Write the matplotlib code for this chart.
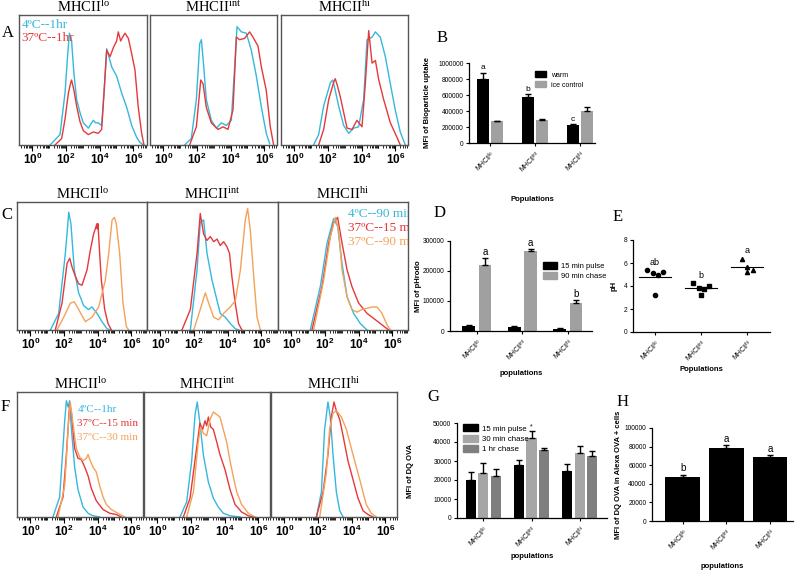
import numpy as np
import matplotlib
matplotlib.use('Agg')
import matplotlib.pyplot as plt
from matplotlib.ticker import FixedLocator, FormatStrFormatter
from matplotlib.patches import Patch

plt.rcParams['font.family'] = ['Liberation Sans', 'DejaVu Sans']
plt.rcParams['mathtext.fontset'] = 'custom'
plt.rcParams['mathtext.rm'] = 'Liberation Serif'
plt.rcParams['mathtext.bf'] = 'Liberation Sans:bold'
plt.rcParams['mathtext.sf'] = 'Liberation Sans'

# ---- histogram traces (x in log10 decades, y in % of panel height) ----
A_lo_4C = ([1.05, 1.64, 1.94, 2.1, 2.2, 2.33, 2.47, 2.63, 2.83, 3.03, 3.33, 3.62, 3.76, 3.92, 4.12, 4.26, 4.42, 4.72, 5.01, 5.31, 5.61, 5.91, 6.2, 6.4, 6.6],
           [0, 8, 40, 70, 86, 80, 55, 35, 25, 17, 13, 19, 17, 17, 15, 40, 74, 60, 53, 40, 29, 15, 6, 2, 0])
A_lo_37C = ([1.34, 1.74, 1.94, 2.14, 2.28, 2.33, 2.47, 2.63, 2.83, 3.03, 3.33, 3.62, 3.92, 4.12, 4.26, 4.42, 4.62, 4.82, 5.01, 5.11, 5.25, 5.37, 5.51, 5.71, 5.91, 6.1, 6.3, 6.5, 6.64],
            [0, 5, 20, 40, 48, 50, 42, 30, 18, 11, 8, 10, 9, 12, 40, 73, 68, 75, 80, 87, 80, 83, 86, 82, 70, 58, 29, 9, 0])
A_int_4C = ([1.26, 1.66, 1.96, 2.16, 2.26, 2.4, 2.55, 2.85, 3.15, 3.45, 3.74, 4.04, 4.24, 4.38, 4.64, 4.93, 5.23, 5.53, 5.83, 6.12, 6.32],
            [0, 5, 35, 78, 81, 60, 35, 19, 13, 17, 15, 19, 60, 91, 87, 86, 73, 53, 29, 9, 1])
A_int_37C = ([1.56, 1.96, 2.22, 2.36, 2.55, 2.85, 3.25, 3.55, 3.84, 4.14, 4.34, 4.53, 4.83, 5.13, 5.33, 5.63, 5.83, 6.12, 6.36, 6.56],
             [0, 14, 50, 47, 29, 17, 12, 14, 12, 27, 83, 81, 82, 87, 83, 76, 60, 42, 14, 0])
A_hi_4C = ([1.14, 1.44, 1.74, 2.14, 2.28, 2.43, 2.63, 2.93, 3.23, 3.53, 3.82, 4.12, 4.32, 4.62, 4.82, 5.11, 5.41, 5.71, 6.0, 6.3, 6.6],
           [0, 8, 30, 48, 50, 42, 30, 15, 9, 13, 14, 35, 81, 83, 87, 83, 68, 47, 27, 10, 0])
A_hi_37C = ([1.44, 1.74, 2.04, 2.33, 2.43, 2.57, 2.73, 3.13, 3.43, 3.72, 4.02, 4.22, 4.42, 4.62, 4.82, 5.02, 5.31, 5.71, 6.1, 6.3],
            [0, 12, 35, 48, 51, 45, 37, 13, 12, 19, 14, 47, 88, 63, 65, 50, 35, 17, 6, 0])

C_lo_4C = ([1.19, 1.68, 2.08, 2.28, 2.41, 2.61, 2.87, 3.17, 3.46, 3.66, 3.96, 4.26, 4.56, 4.76],
           [0, 13, 60, 92, 83, 47, 29, 19, 16, 18, 13, 6.5, 1, 0])
C_lo_37C15 = ([1.48, 1.88, 2.18, 2.34, 2.48, 2.67, 2.87, 3.07, 3.37, 3.56, 3.76, 3.96, 3.98, 4.02, 4.12, 4.22, 4.42, 4.62, 4.82],
              [0, 21, 52, 56, 49, 42, 36, 35, 47, 62, 75, 83, 79, 83, 60, 39, 16, 5, 0])
C_lo_37C90 = ([1.58, 1.98, 2.38, 2.61, 2.87, 3.27, 3.66, 4.06, 4.46, 4.66, 4.86, 5.0, 5.11, 5.31, 5.51, 5.71, 5.85],
              [0, 10, 21, 22, 16, 6.5, 10, 18, 39, 60, 86, 88, 83, 60, 21, 2.6, 0])
C_int_4C = ([1.78, 2.18, 2.37, 2.57, 2.77, 3.07, 3.37, 3.56, 3.86, 4.16, 4.46, 4.66],
            [0, 47, 84, 86, 60, 39, 23, 13, 10, 5, 1, 0])
C_int_37C15 = ([1.28, 1.78, 2.18, 2.37, 2.57, 2.77, 2.97, 3.17, 3.37, 3.56, 3.76, 3.96, 4.11, 4.25, 4.45, 4.65, 4.85],
               [0, 16, 60, 91, 75, 70, 73, 69, 71, 66, 69, 65, 60, 42, 21, 5, 0])
C_int_37C90 = ([1.98, 2.37, 2.67, 2.87, 3.17, 3.46, 3.76, 4.16, 4.46, 4.76, 5.05, 5.19, 5.35, 5.55, 5.75, 5.95],
               [0, 16, 29, 21, 10, 8, 13, 18, 23, 47, 86, 95, 78, 42, 10, 0])
C_hi_4C = ([1.12, 1.72, 2.12, 2.51, 2.75, 3.01, 3.31, 3.7, 4.1, 4.5],
           [0, 34, 68, 87, 81, 52, 26, 13, 5, 0])
C_hi_37C15 = ([1.22, 1.82, 2.22, 2.51, 2.75, 3.01, 3.31, 3.6, 4.0, 4.5, 5.0, 5.49, 5.79],
              [0, 34, 68, 84, 88, 68, 47, 34, 21, 13, 8, 3, 0])
C_hi_37C90 = ([1.32, 1.92, 2.32, 2.61, 2.81, 3.01, 3.31, 3.6, 3.9, 4.2, 4.5, 4.8, 5.09, 5.39, 5.69, 5.89],
              [0, 39, 73, 88, 78, 47, 26, 16, 14, 16, 17, 18, 18, 13, 4, 0])

F_lo_4C = ([1.34, 1.74, 2.04, 2.14, 2.24, 2.33, 2.43, 2.63, 2.83, 3.13, 3.43, 3.72, 4.12],
           [0, 16, 77, 93, 88, 93, 72, 40, 22, 8, 3, 1, 0])
F_lo_37C15 = ([1.54, 1.94, 2.14, 2.33, 2.43, 2.63, 2.83, 3.03, 3.23, 3.43, 3.62, 3.92, 4.32, 4.72, 5.11, 5.41],
              [0, 16, 50, 90, 85, 55, 47, 46, 40, 33, 23, 13, 6, 3, 2, 0])
F_lo_37C30 = ([1.64, 2.04, 2.24, 2.37, 2.53, 2.73, 2.93, 3.13, 3.33, 3.43, 3.53, 3.72, 3.92, 4.12, 4.32, 4.52, 4.81, 5.21, 5.61],
              [0, 25, 70, 92, 75, 55, 48, 45, 47, 50, 46, 40, 36, 25, 16, 10, 6, 3, 0])
F_int_4C = ([1.34, 1.74, 2.04, 2.24, 2.37, 2.53, 2.73, 3.03, 3.33, 3.62, 3.92, 4.32, 4.91],
            [0, 12, 45, 82, 92, 75, 50, 28, 15, 8, 3, 1, 0])
F_int_37C15 = ([1.54, 1.94, 2.33, 2.53, 2.69, 2.83, 2.93, 3.03, 3.17, 3.33, 3.53, 3.72, 4.02, 4.32, 4.62, 5.01, 5.41, 5.71],
               [0, 15, 55, 75, 70, 77, 73, 80, 72, 70, 60, 50, 38, 22, 10, 4, 1, 0])
F_int_37C30 = ([1.74, 2.14, 2.43, 2.57, 2.73, 2.93, 3.13, 3.33, 3.53, 3.72, 3.92, 4.12, 4.32, 4.52, 4.72, 5.01, 5.41, 5.81],
               [0, 20, 60, 72, 67, 65, 78, 84, 82, 80, 70, 60, 45, 32, 20, 10, 3, 0])
F_hi_4C = ([1.9, 2.2, 2.39, 2.59, 2.73, 2.89, 3.09, 3.29, 3.49],
           [0, 20, 70, 92, 80, 50, 20, 5, 0])
F_hi_37C15 = ([1.9, 2.3, 2.59, 2.79, 2.95, 3.09, 3.29, 3.49, 3.78, 4.08, 4.38, 4.68, 4.97, 5.27],
              [0, 20, 50, 80, 92, 85, 78, 65, 45, 30, 15, 5, 2, 0])
F_hi_37C30 = ([2.1, 2.49, 2.69, 2.89, 3.09, 3.39, 3.69, 3.98, 4.28, 4.58, 4.87, 5.17, 5.47],
              [0, 35, 70, 83, 85, 80, 70, 55, 40, 25, 10, 3, 0])

# ---- bar / dot panels ----
pop_labels = [r'$\mathsf{MHCII^{lo}}$', r'$\mathsf{MHCII^{int}}$', r'$\mathsf{MHCII^{hi}}$']

uptake_warm = [800000, 580000, 230000]
uptake_warm_err = [80000, 35000, 8000]
uptake_ice = [270000, 290000, 400000]
uptake_ice_err = [10000, 15000, 55000]
uptake_letters = ['a', 'b', 'c']

phrodo_pulse = [17000, 15000, 8000]
phrodo_pulse_err = [2000, 1500, 1500]
phrodo_chase = [220000, 265000, 95000]
phrodo_chase_err = [22000, 8000, 8000]
phrodo_letters = ['a', 'a', 'b']

ph_lo = [5.36, 5.13, 4.92, 5.22, 3.22]
ph_int = [4.25, 3.84, 3.78, 3.99, 3.22]
ph_hi = [6.39, 5.66, 5.22, 5.42]
ph_letters = ['ab', 'b', 'a']

dq_pulse = [20000, 28000, 25000]
dq_pulse_err = [4000, 2500, 3500]
dq_chase30 = [23700, 42000, 34000]
dq_chase30_err = [5300, 3800, 3800]
dq_chase60 = [22000, 36000, 32700]
dq_chase60_err = [3800, 1000, 2600]

dq_alexa = [47500, 78000, 68500]
dq_alexa_err = [2500, 3500, 2500]
dq_alexa_letters = ['b', 'a', 'a']

CYAN = '#35b8dc'
RED = '#e5383b'
ORANGE = '#f4a25a'

W, H = 800, 572
fig = plt.figure(figsize=(8, 5.72), dpi=100)


def px_axes(l, t, r, b):
    return fig.add_axes([l / W, 1 - b / H, (r - l) / W, (b - t) / H])


def hist_panel(box, title, curves):
    ax = px_axes(*box)
    for (x, y), c in curves:
        ax.plot(x, y, color=c, lw=1)
    ax.set_xlim(-0.8, -0.8 + (box[2] - box[0]) / 16.8)
    ax.set_ylim(0, 100)
    ax.set_yticks([])
    ax.xaxis.set_major_locator(FixedLocator([0, 2, 4, 6]))
    minors = [d + np.log10(k) for d in range(-1, 7) for k in range(1, 10)]
    ax.xaxis.set_minor_locator(FixedLocator(minors))
    ax.set_xticklabels([r'$\mathbf{10^{%d}}$' % d for d in [0, 2, 4, 6]])
    ax.tick_params(axis='x', which='major', direction='out', length=4, width=0.8,
                   labelsize=8.5, pad=1)
    ax.tick_params(axis='x', which='minor', direction='out', length=2, width=0.6)
    for s in ax.spines.values():
        s.set_color('#555555')
        s.set_linewidth(1)
    ax.set_title(title, fontsize=10.5, pad=1)
    return ax


t_lo = r'$\mathrm{MHCII^{lo}}$'
t_int = r'$\mathrm{MHCII^{int}}$'
t_hi = r'$\mathrm{MHCII^{hi}}$'

# row A
a1 = hist_panel((19, 15, 147, 145), t_lo, [(A_lo_4C, CYAN), (A_lo_37C, RED)])
hist_panel((150, 15, 277, 145), t_int, [(A_int_4C, CYAN), (A_int_37C, RED)])
hist_panel((281, 15, 408, 145), t_hi, [(A_hi_4C, CYAN), (A_hi_37C, RED)])
a1.text(0.02, 0.92, '4\u00baC--1hr', color=CYAN, transform=a1.transAxes,
        family='Liberation Serif', fontsize=9.5, va='center')
a1.text(0.02, 0.82, '37\u00baC--1hr', color=RED, transform=a1.transAxes,
        family='Liberation Serif', fontsize=9.5, va='center')

# row C
hist_panel((17, 202, 147, 330), t_lo, [(C_lo_4C, CYAN), (C_lo_37C15, RED), (C_lo_37C90, ORANGE)])
hist_panel((147, 202, 278, 330), t_int, [(C_int_4C, CYAN), (C_int_37C15, RED), (C_int_37C90, ORANGE)])
c3 = hist_panel((278, 202, 408, 330), t_hi, [(C_hi_4C, CYAN), (C_hi_37C15, RED), (C_hi_37C90, ORANGE)])
for yy, txt, c in [(0.91, '4\u00baC--90 min', CYAN), (0.80, '37\u00baC--15 min', RED),
                   (0.69, '37\u00baC--90 min', ORANGE)]:
    c3.text(0.54, yy, txt, color=c, transform=c3.transAxes, family='Liberation Serif',
            fontsize=9.5, va='center', clip_on=True)

# row F
f1 = hist_panel((17, 392, 143, 517), t_lo, [(F_lo_4C, CYAN), (F_lo_37C15, RED), (F_lo_37C30, ORANGE)])
hist_panel((144, 392, 270, 517), t_int, [(F_int_4C, CYAN), (F_int_37C15, RED), (F_int_37C30, ORANGE)])
hist_panel((271, 392, 397, 517), t_hi, [(F_hi_4C, CYAN), (F_hi_37C15, RED), (F_hi_37C30, ORANGE)])
for yy, txt, c in [(0.86, '4\u00baC--1hr', CYAN), (0.75, '37\u00baC--15 min', RED),
                   (0.64, '37\u00baC--30 min', ORANGE)]:
    f1.text(0.48, yy, txt, color=c, transform=f1.transAxes, family='Liberation Serif',
            fontsize=8, va='center', zorder=5)


def prism_axes(box, ymax, yticks, ylabel, xlabel, ylab_x, xlab_y, xlim):
    ax = px_axes(*box)
    ax.set_ylim(0, ymax)
    ax.set_yticks(yticks)
    ax.yaxis.set_major_formatter(FormatStrFormatter('%d'))
    ax.set_xlim(*xlim)
    ax.set_xticks(range(3))
    ax.set_xticklabels(pop_labels, rotation=45, ha='right', rotation_mode='anchor')
    for s in ['top', 'right']:
        ax.spines[s].set_visible(False)
    for s in ['left', 'bottom']:
        ax.spines[s].set_linewidth(0.9)
    ax.tick_params(labelsize=4.8, length=2.5, width=0.8, pad=1.5)
    ax.set_ylabel(ylabel, fontsize=5.5, fontweight='bold')
    ax.set_xlabel(xlabel, fontsize=5.5, fontweight='bold')
    ax.yaxis.set_label_coords(ylab_x, 0.5)
    ax.xaxis.set_label_coords(0.5, xlab_y)
    return ax


def upper_err(ax, x, vals, errs):
    ax.errorbar(x, vals, yerr=[np.zeros(len(vals)), errs], fmt='none', ecolor='black',
                elinewidth=1, capsize=2, capthick=1)


idx = np.arange(3)

# B
axb = prism_axes((469, 63, 595, 143), 1000000, range(0, 1000001, 200000),
                 'MFI of Bioparticle uptake', 'Populations', -0.3, -0.66, (-0.47, 2.33))
w = 0.27
axb.bar(idx - 0.16, uptake_warm, w, color='black')
axb.bar(idx + 0.16, uptake_ice, w, color='#a0a0a0')
upper_err(axb, idx - 0.16, uptake_warm, uptake_warm_err)
upper_err(axb, idx + 0.16, uptake_ice, uptake_ice_err)
for i, l in enumerate(uptake_letters):
    axb.text(i - 0.16, uptake_warm[i] + uptake_warm_err[i] + 15000, l, ha='center',
             va='bottom', fontsize=6)
axb.legend([Patch(color='black'), Patch(color='#a0a0a0')], ['warm', 'ice control'],
           loc='upper left', bbox_to_anchor=(0.5, 0.93), frameon=False, fontsize=5,
           handlelength=1.6, handleheight=0.9, borderaxespad=0, labelspacing=0.4)

# D
axd = prism_axes((450, 241, 592, 331), 300000, [0, 100000, 200000, 300000],
                 'MFI of pHrodo', 'populations', -0.2, -0.43, (-0.59, 2.53))
w = 0.28
axd.bar(idx - 0.18, phrodo_pulse, w, color='black')
axd.bar(idx + 0.18, phrodo_chase, w, color='#a0a0a0')
upper_err(axd, idx - 0.18, phrodo_pulse, phrodo_pulse_err)
upper_err(axd, idx + 0.18, phrodo_chase, phrodo_chase_err)
for i, l in enumerate(phrodo_letters):
    axd.text(i + 0.18, phrodo_chase[i] + phrodo_chase_err[i] + 5000, l, ha='center',
             va='bottom', fontsize=7)
axd.legend([Patch(color='black'), Patch(color='#a0a0a0')], ['15 min pulse', '90 min chase'],
           loc='upper left', bbox_to_anchor=(0.63, 0.8), frameon=False, fontsize=5.5,
           handlelength=1.9, handleheight=1.0, handletextpad=0.5, borderaxespad=0,
           labelspacing=0.3)

# E
axe = prism_axes((633, 240, 770, 332), 8, [0, 2, 4, 6, 8], 'pH', 'Populations',
                 -0.11, -0.37, (-0.48, 2.5))
jit5 = [-0.17, -0.04, 0.07, 0.17, 0.0]
jit4 = [-0.11, 0.0, 0.0, 0.13]
for i, (vals, mk, jit) in enumerate([(ph_lo, 'o', jit5), (ph_int, 's', jit5), (ph_hi, '^', jit4)]):
    axe.plot(i + np.array(jit), vals, mk, color='black', ms=3, ls='none')
    m = np.mean(vals)
    axe.plot([i - 0.35, i + 0.35], [m, m], color='black', lw=0.8)
    axe.text(i, max(vals) + 0.3, ph_letters[i], ha='center', va='bottom', fontsize=6.5)

# G
axg = prism_axes((457, 423, 607, 518), 50000, range(0, 50001, 10000),
                 'MFI of DQ OVA', 'populations', -0.29, -0.37, (-0.55, 2.57))
w = 0.21
cols = ['black', '#a6a6a6', '#7f7f7f']
for off, vals, errs, c in [(-0.26, dq_pulse, dq_pulse_err, cols[0]),
                           (0.0, dq_chase30, dq_chase30_err, cols[1]),
                           (0.26, dq_chase60, dq_chase60_err, cols[2])]:
    axg.bar(idx + off, vals, w, color=c)
    upper_err(axg, idx + off, vals, errs)
axg.text(1, dq_chase30[1] + dq_chase30_err[1] + 300, '*', ha='center', va='bottom', fontsize=5)
axg.legend([Patch(color=c) for c in cols], ['15 min pulse', '30 min chase', '1 hr chase'],
           loc='upper left', bbox_to_anchor=(0.02, 1.02), frameon=False, fontsize=5.7,
           handlelength=1.9, handleheight=1.0, handletextpad=0.5, borderaxespad=0,
           labelspacing=0.25)

# H
axh = prism_axes((652, 428, 793, 521), 100000, range(0, 100001, 20000),
                 'MFI of DQ OVA in Alexa OVA + cells', 'populations', -0.21, -0.45,
                 (-0.71, 2.53))
axh.bar(idx, dq_alexa, 0.8, color='black')
upper_err(axh, idx, dq_alexa, dq_alexa_err)
for i, l in enumerate(dq_alexa_letters):
    axh.text(i, dq_alexa[i] + dq_alexa_err[i] + 1500, l, ha='center', va='bottom', fontsize=7)

# panel letters
for x, y, l in [(8, 33, 'A'), (442, 38, 'B'), (7, 215, 'C'), (440, 213, 'D'),
                (618, 217, 'E'), (5, 407, 'F'), (433, 397, 'G'), (623, 402, 'H')]:
    fig.text(x / W, 1 - y / H, l, family='Liberation Serif', fontsize=12,
             ha='center', va='center')

fig.savefig('out.png', dpi=100)
